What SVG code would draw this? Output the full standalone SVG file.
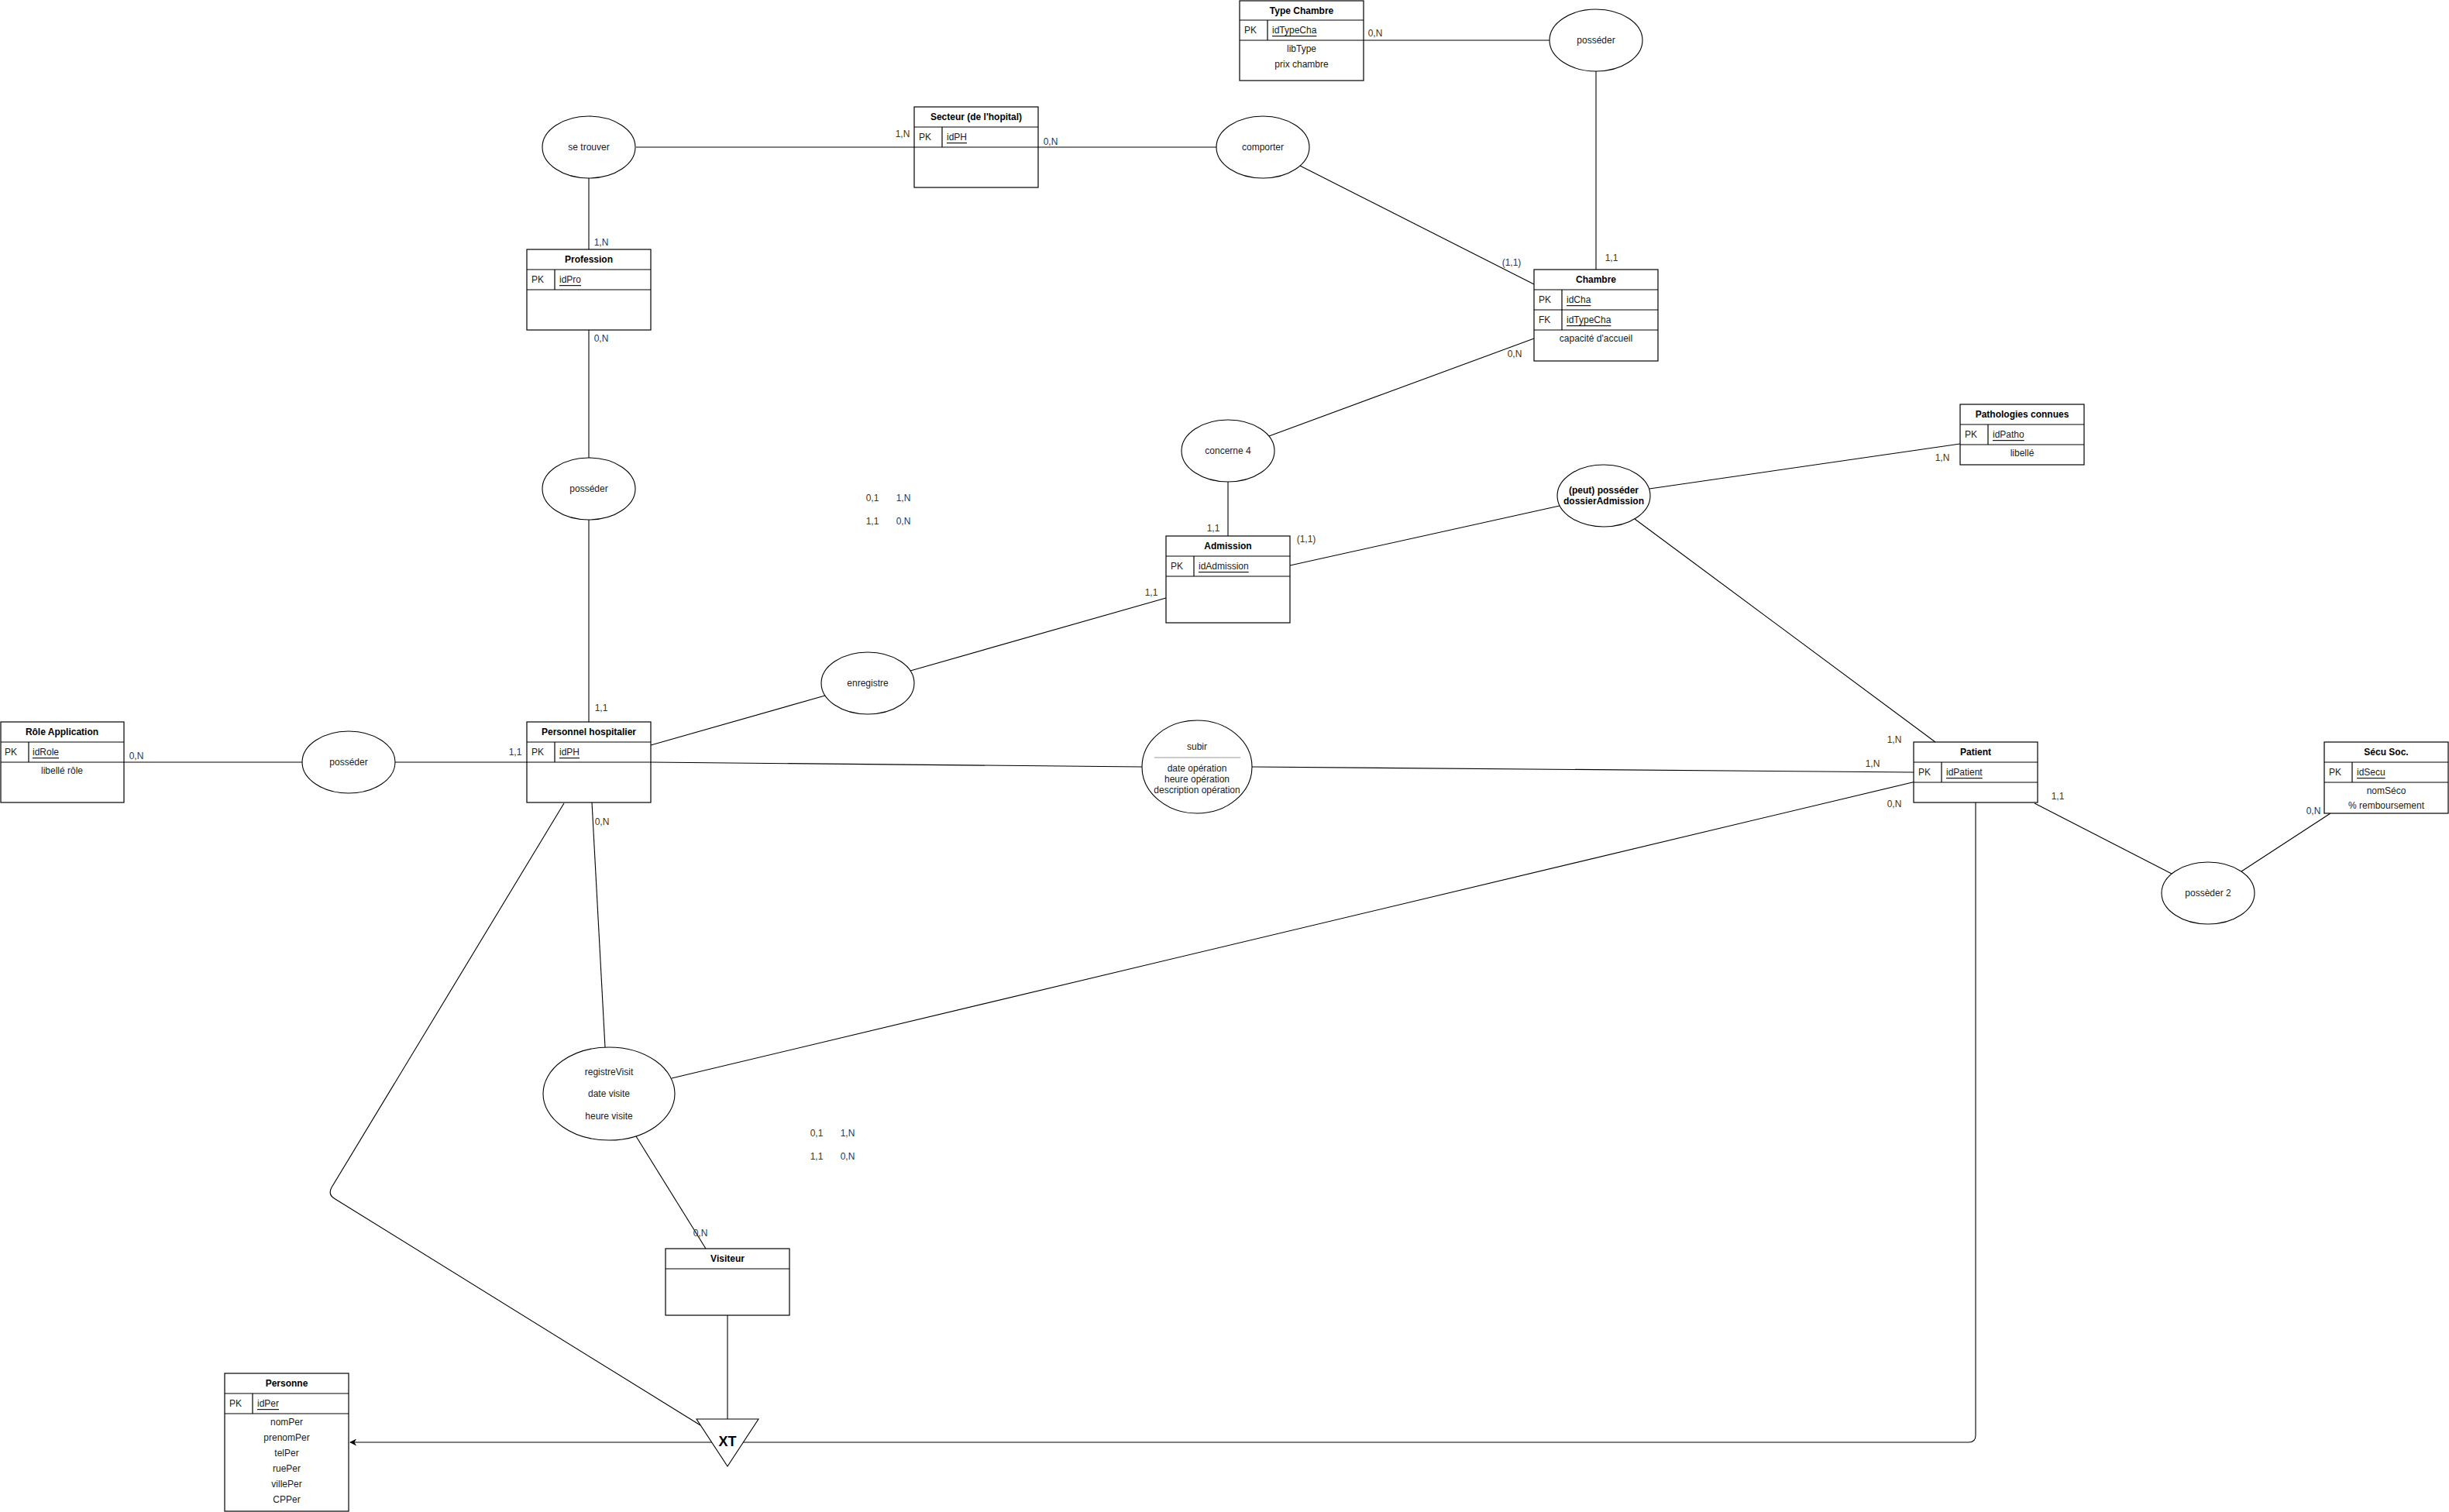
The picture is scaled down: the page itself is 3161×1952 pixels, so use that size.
<svg xmlns="http://www.w3.org/2000/svg" width="3161" height="1952" viewBox="0 0 3161 1952">
  <style>
    .box { fill: #ffffff; stroke: #000000; stroke-width: 1.2; }
    .sep { stroke: #000000; stroke-width: 1.2; fill: none; }
    .ell { fill: #ffffff; stroke: #000000; stroke-width: 1.1; }
    .edge { stroke: #000000; stroke-width: 1.1; fill: none; }
    text { font-family: "Liberation Sans", Arial, Helvetica, sans-serif; font-size: 12px; fill: #1a1a1a; dominant-baseline: central; }
    .ttl { font-weight: bold; text-anchor: middle; fill: #000000; }
    .mid { text-anchor: middle; }
    .key { text-decoration: underline; }
    .card { fill: #333333; text-anchor: middle; }
  </style>
  <defs>
    <marker id="arrow" viewBox="0 0 10 10" refX="9" refY="5" markerWidth="9" markerHeight="9" markerUnits="userSpaceOnUse" orient="auto">
      <path d="M0,0 L10,5 L0,10 L3,5 Z" fill="#000000"/>
    </marker>
  </defs>

  <rect width="3161" height="1952" fill="#ffffff"/>

  <!-- connectors -->
  <g id="connectors">
    <line class="edge" x1="1760" y1="52" x2="2000" y2="52"/>
    <line class="edge" x1="2060" y1="92" x2="2060" y2="348"/>
    <line class="edge" x1="821" y1="190" x2="1180" y2="190"/>
    <line class="edge" x1="1340" y1="190" x2="1570" y2="190"/>
    <line class="edge" x1="760" y1="230" x2="760" y2="322"/>
    <line class="edge" x1="1678" y1="214" x2="1980" y2="367"/>
    <line class="edge" x1="1980" y1="437" x2="1638" y2="563"/>
    <line class="edge" x1="1585" y1="622" x2="1585" y2="692"/>
    <line class="edge" x1="1665" y1="730" x2="2013" y2="653"/>
    <line class="edge" x1="2129" y1="631" x2="2530" y2="573"/>
    <line class="edge" x1="2110" y1="670" x2="2498" y2="958"/>
    <line class="edge" x1="760" y1="426" x2="760" y2="591"/>
    <line class="edge" x1="760" y1="671" x2="760" y2="932"/>
    <line class="edge" x1="840" y1="962" x2="1065" y2="898"/>
    <line class="edge" x1="1175" y1="866" x2="1505" y2="772"/>
    <line class="edge" x1="160" y1="984" x2="390" y2="984"/>
    <line class="edge" x1="510" y1="984" x2="680" y2="984"/>
    <line class="edge" x1="840" y1="984" x2="1474" y2="990"/>
    <line class="edge" x1="1616" y1="990" x2="2470" y2="997" stroke-width="1.5"/>
    <line class="edge" x1="2626" y1="1037" x2="2803" y2="1128"/>
    <line class="edge" x1="2893" y1="1125" x2="3008" y2="1050"/>
    <line class="edge" x1="764" y1="1036" x2="781" y2="1352"/>
    <line class="edge" x1="867" y1="1392" x2="2481" y2="1007"/>
    <line class="edge" x1="821" y1="1467" x2="911" y2="1612"/>
    <line class="edge" x1="939" y1="1698" x2="939" y2="1832"/>
    <path class="edge" d="M728,1037 L428,1533 Q423,1542 431.5,1547.3 L904,1840"/>
    <path class="edge" d="M2550,1036 V1853 Q2550,1862 2541,1862 H959"/>
    <line class="edge" x1="919" y1="1862" x2="452" y2="1862" marker-end="url(#arrow)"/>
  </g>

  <!-- entities -->
  <g id="type-chambre">
    <rect class="box" x="1600" y="1" width="160" height="103"/>
    <line class="sep" x1="1600" y1="26" x2="1760" y2="26"/>
    <line class="sep" x1="1600" y1="52" x2="1760" y2="52"/>
    <line class="sep" x1="1636" y1="26" x2="1636" y2="52"/>
    <text class="ttl" x="1680" y="13.5">Type Chambre</text>
    <text x="1606" y="39">PK</text>
    <text class="key" x="1642" y="39">idTypeCha</text>
    <text class="mid" x="1680" y="63">libType</text>
    <text class="mid" x="1680" y="83">prix chambre</text>
  </g>

  <g id="secteur">
    <rect class="box" x="1180" y="138" width="160" height="104"/>
    <line class="sep" x1="1180" y1="164" x2="1340" y2="164"/>
    <line class="sep" x1="1180" y1="190" x2="1340" y2="190"/>
    <line class="sep" x1="1216" y1="164" x2="1216" y2="190"/>
    <text class="ttl" x="1260" y="151">Secteur (de l'hopital)</text>
    <text x="1186" y="177">PK</text>
    <text class="key" x="1222" y="177">idPH</text>
  </g>

  <g id="profession">
    <rect class="box" x="680" y="322" width="160" height="104"/>
    <line class="sep" x1="680" y1="348" x2="840" y2="348"/>
    <line class="sep" x1="680" y1="374" x2="840" y2="374"/>
    <line class="sep" x1="716" y1="348" x2="716" y2="374"/>
    <text class="ttl" x="760" y="335">Profession</text>
    <text x="686" y="361">PK</text>
    <text class="key" x="722" y="361">idPro</text>
  </g>

  <g id="chambre">
    <rect class="box" x="1980" y="348" width="160" height="118"/>
    <line class="sep" x1="1980" y1="374" x2="2140" y2="374"/>
    <line class="sep" x1="1980" y1="400" x2="2140" y2="400"/>
    <line class="sep" x1="1980" y1="426" x2="2140" y2="426"/>
    <line class="sep" x1="2016" y1="374" x2="2016" y2="426"/>
    <text class="ttl" x="2060" y="361">Chambre</text>
    <text x="1986" y="387">PK</text>
    <text class="key" x="2022" y="387">idCha</text>
    <text x="1986" y="413">FK</text>
    <text class="key" x="2022" y="413">idTypeCha</text>
    <text class="mid" x="2060" y="437">capacité d'accueil</text>
  </g>

  <g id="pathologies">
    <rect class="box" x="2530" y="522" width="160" height="78"/>
    <line class="sep" x1="2530" y1="548" x2="2690" y2="548"/>
    <line class="sep" x1="2530" y1="574" x2="2690" y2="574"/>
    <line class="sep" x1="2566" y1="548" x2="2566" y2="574"/>
    <text class="ttl" x="2610" y="535">Pathologies connues</text>
    <text x="2536" y="561">PK</text>
    <text class="key" x="2572" y="561">idPatho</text>
    <text class="mid" x="2610" y="585">libellé</text>
  </g>

  <g id="admission">
    <rect class="box" x="1505" y="692" width="160" height="112"/>
    <line class="sep" x1="1505" y1="718" x2="1665" y2="718"/>
    <line class="sep" x1="1505" y1="744" x2="1665" y2="744"/>
    <line class="sep" x1="1541" y1="718" x2="1541" y2="744"/>
    <text class="ttl" x="1585" y="705">Admission</text>
    <text x="1511" y="731">PK</text>
    <text class="key" x="1547" y="731">idAdmission</text>
  </g>

  <g id="role-application">
    <rect class="box" x="1" y="932" width="159" height="104"/>
    <line class="sep" x1="1" y1="958" x2="160" y2="958"/>
    <line class="sep" x1="1" y1="984" x2="160" y2="984"/>
    <line class="sep" x1="37" y1="958" x2="37" y2="984"/>
    <text class="ttl" x="80" y="945">Rôle Application</text>
    <text x="6" y="971">PK</text>
    <text class="key" x="42" y="971">idRole</text>
    <text class="mid" x="80" y="995">libellé rôle</text>
  </g>

  <g id="personnel-hospitalier">
    <rect class="box" x="680" y="932" width="160" height="104"/>
    <line class="sep" x1="680" y1="958" x2="840" y2="958"/>
    <line class="sep" x1="680" y1="984" x2="840" y2="984"/>
    <line class="sep" x1="716" y1="958" x2="716" y2="984"/>
    <text class="ttl" x="760" y="945">Personnel hospitalier</text>
    <text x="686" y="971">PK</text>
    <text class="key" x="722" y="971">idPH</text>
  </g>

  <g id="patient">
    <rect class="box" x="2470" y="958" width="160" height="78"/>
    <line class="sep" x1="2470" y1="984" x2="2630" y2="984"/>
    <line class="sep" x1="2470" y1="1010" x2="2630" y2="1010"/>
    <line class="sep" x1="2506" y1="984" x2="2506" y2="1010"/>
    <text class="ttl" x="2550" y="971">Patient</text>
    <text x="2476" y="997">PK</text>
    <text class="key" x="2512" y="997">idPatient</text>
  </g>

  <g id="secu-soc">
    <rect class="box" x="3000" y="958" width="160" height="92"/>
    <line class="sep" x1="3000" y1="984" x2="3160" y2="984"/>
    <line class="sep" x1="3000" y1="1010" x2="3160" y2="1010"/>
    <line class="sep" x1="3036" y1="984" x2="3036" y2="1010"/>
    <text class="ttl" x="3080" y="971">Sécu Soc.</text>
    <text x="3006" y="997">PK</text>
    <text class="key" x="3042" y="997">idSecu</text>
    <text class="mid" x="3080" y="1021">nomSéco</text>
    <text class="mid" x="3080" y="1040">% remboursement</text>
  </g>

  <g id="visiteur">
    <rect class="box" x="859" y="1612" width="160" height="86"/>
    <line class="sep" x1="859" y1="1638" x2="1019" y2="1638"/>
    <text class="ttl" x="939" y="1625">Visiteur</text>
  </g>

  <g id="personne">
    <rect class="box" x="290" y="1773" width="160" height="178"/>
    <line class="sep" x1="290" y1="1799" x2="450" y2="1799"/>
    <line class="sep" x1="290" y1="1825" x2="450" y2="1825"/>
    <line class="sep" x1="326" y1="1799" x2="326" y2="1825"/>
    <text class="ttl" x="370" y="1786">Personne</text>
    <text x="296" y="1812">PK</text>
    <text class="key" x="332" y="1812">idPer</text>
    <text class="mid" x="370" y="1836">nomPer</text>
    <text class="mid" x="370" y="1856">prenomPer</text>
    <text class="mid" x="370" y="1876">telPer</text>
    <text class="mid" x="370" y="1896">ruePer</text>
    <text class="mid" x="370" y="1916">villePer</text>
    <text class="mid" x="370" y="1936">CPPer</text>
  </g>

  <!-- associations -->
  <g id="posseder-type">
    <ellipse class="ell" cx="2060" cy="52" rx="60" ry="40"/>
    <text class="mid" x="2060" y="52">posséder</text>
  </g>
  <g id="comporter">
    <ellipse class="ell" cx="1630" cy="190" rx="60" ry="40"/>
    <text class="mid" x="1630" y="190">comporter</text>
  </g>
  <g id="se-trouver">
    <ellipse class="ell" cx="760" cy="190" rx="60" ry="40"/>
    <text class="mid" x="760" y="190">se trouver</text>
  </g>
  <g id="posseder-profession">
    <ellipse class="ell" cx="760" cy="631" rx="60" ry="40"/>
    <text class="mid" x="760" y="631">posséder</text>
  </g>
  <g id="concerne-4">
    <ellipse class="ell" cx="1585" cy="582" rx="60" ry="40"/>
    <text class="mid" x="1585" y="582">concerne 4</text>
  </g>
  <g id="dossier-admission">
    <ellipse class="ell" cx="2070" cy="640" rx="60" ry="40"/>
    <text class="ttl" x="2070" y="633">(peut) posséder</text>
    <text class="ttl" x="2070" y="647">dossierAdmission</text>
  </g>
  <g id="enregistre">
    <ellipse class="ell" cx="1120" cy="882" rx="60" ry="40"/>
    <text class="mid" x="1120" y="882">enregistre</text>
  </g>
  <g id="posseder-role">
    <ellipse class="ell" cx="450" cy="984" rx="60" ry="40"/>
    <text class="mid" x="450" y="984">posséder</text>
  </g>
  <g id="subir">
    <ellipse class="ell" cx="1545" cy="990" rx="71" ry="60"/>
    <text class="mid" x="1545" y="964">subir</text>
    <line x1="1490" y1="978" x2="1601" y2="978" stroke="#999999" stroke-width="1"/>
    <text class="mid" x="1545" y="992">date opération</text>
    <text class="mid" x="1545" y="1006">heure opération</text>
    <text class="mid" x="1545" y="1020">description opération</text>
  </g>
  <g id="posseder-2">
    <ellipse class="ell" cx="2850" cy="1153" rx="60" ry="40"/>
    <text class="mid" x="2850" y="1153">possèder 2</text>
  </g>
  <g id="registre-visit">
    <ellipse class="ell" cx="786" cy="1412" rx="85" ry="60"/>
    <text class="mid" x="786" y="1384">registreVisit</text>
    <text class="mid" x="786" y="1412">date visite</text>
    <text class="mid" x="786" y="1441">heure visite</text>
  </g>
  <g id="xt">
    <polygon class="ell" points="899,1832 979,1832 939,1893"/>
    <text class="ttl" x="939" y="1861" style="font-size:18px">XT</text>
  </g>

  <!-- cardinalities -->
  <g id="cardinalities">
    <text class="card" x="1775" y="43">0,N</text>
    <text class="card" x="1165" y="173">1,N</text>
    <text class="card" x="1356" y="183">0,N</text>
    <text class="card" x="776" y="313">1,N</text>
    <text class="card" x="776" y="437">0,N</text>
    <text class="card" x="1951" y="339">(1,1)</text>
    <text class="card" x="2080" y="333">1,1</text>
    <text class="card" x="1955" y="457">0,N</text>
    <text class="card" x="2507" y="591">1,N</text>
    <text class="card" x="1566" y="682">1,1</text>
    <text class="card" x="1686" y="696">(1,1)</text>
    <text class="card" x="1486" y="765">1,1</text>
    <text class="card" x="1126" y="643">0,1</text>
    <text class="card" x="1166" y="643">1,N</text>
    <text class="card" x="1126" y="673">1,1</text>
    <text class="card" x="1166" y="673">0,N</text>
    <text class="card" x="776" y="914">1,1</text>
    <text class="card" x="665" y="971">1,1</text>
    <text class="card" x="176" y="976">0,N</text>
    <text class="card" x="777" y="1061">0,N</text>
    <text class="card" x="2445" y="955">1,N</text>
    <text class="card" x="2417" y="986">1,N</text>
    <text class="card" x="2445" y="1038">0,N</text>
    <text class="card" x="2656" y="1028">1,1</text>
    <text class="card" x="2986" y="1047">0,N</text>
    <text class="card" x="1054" y="1463">0,1</text>
    <text class="card" x="1094" y="1463">1,N</text>
    <text class="card" x="1054" y="1493">1,1</text>
    <text class="card" x="1094" y="1493">0,N</text>
    <text class="card" x="904" y="1592">0,N</text>
  </g>
</svg>
